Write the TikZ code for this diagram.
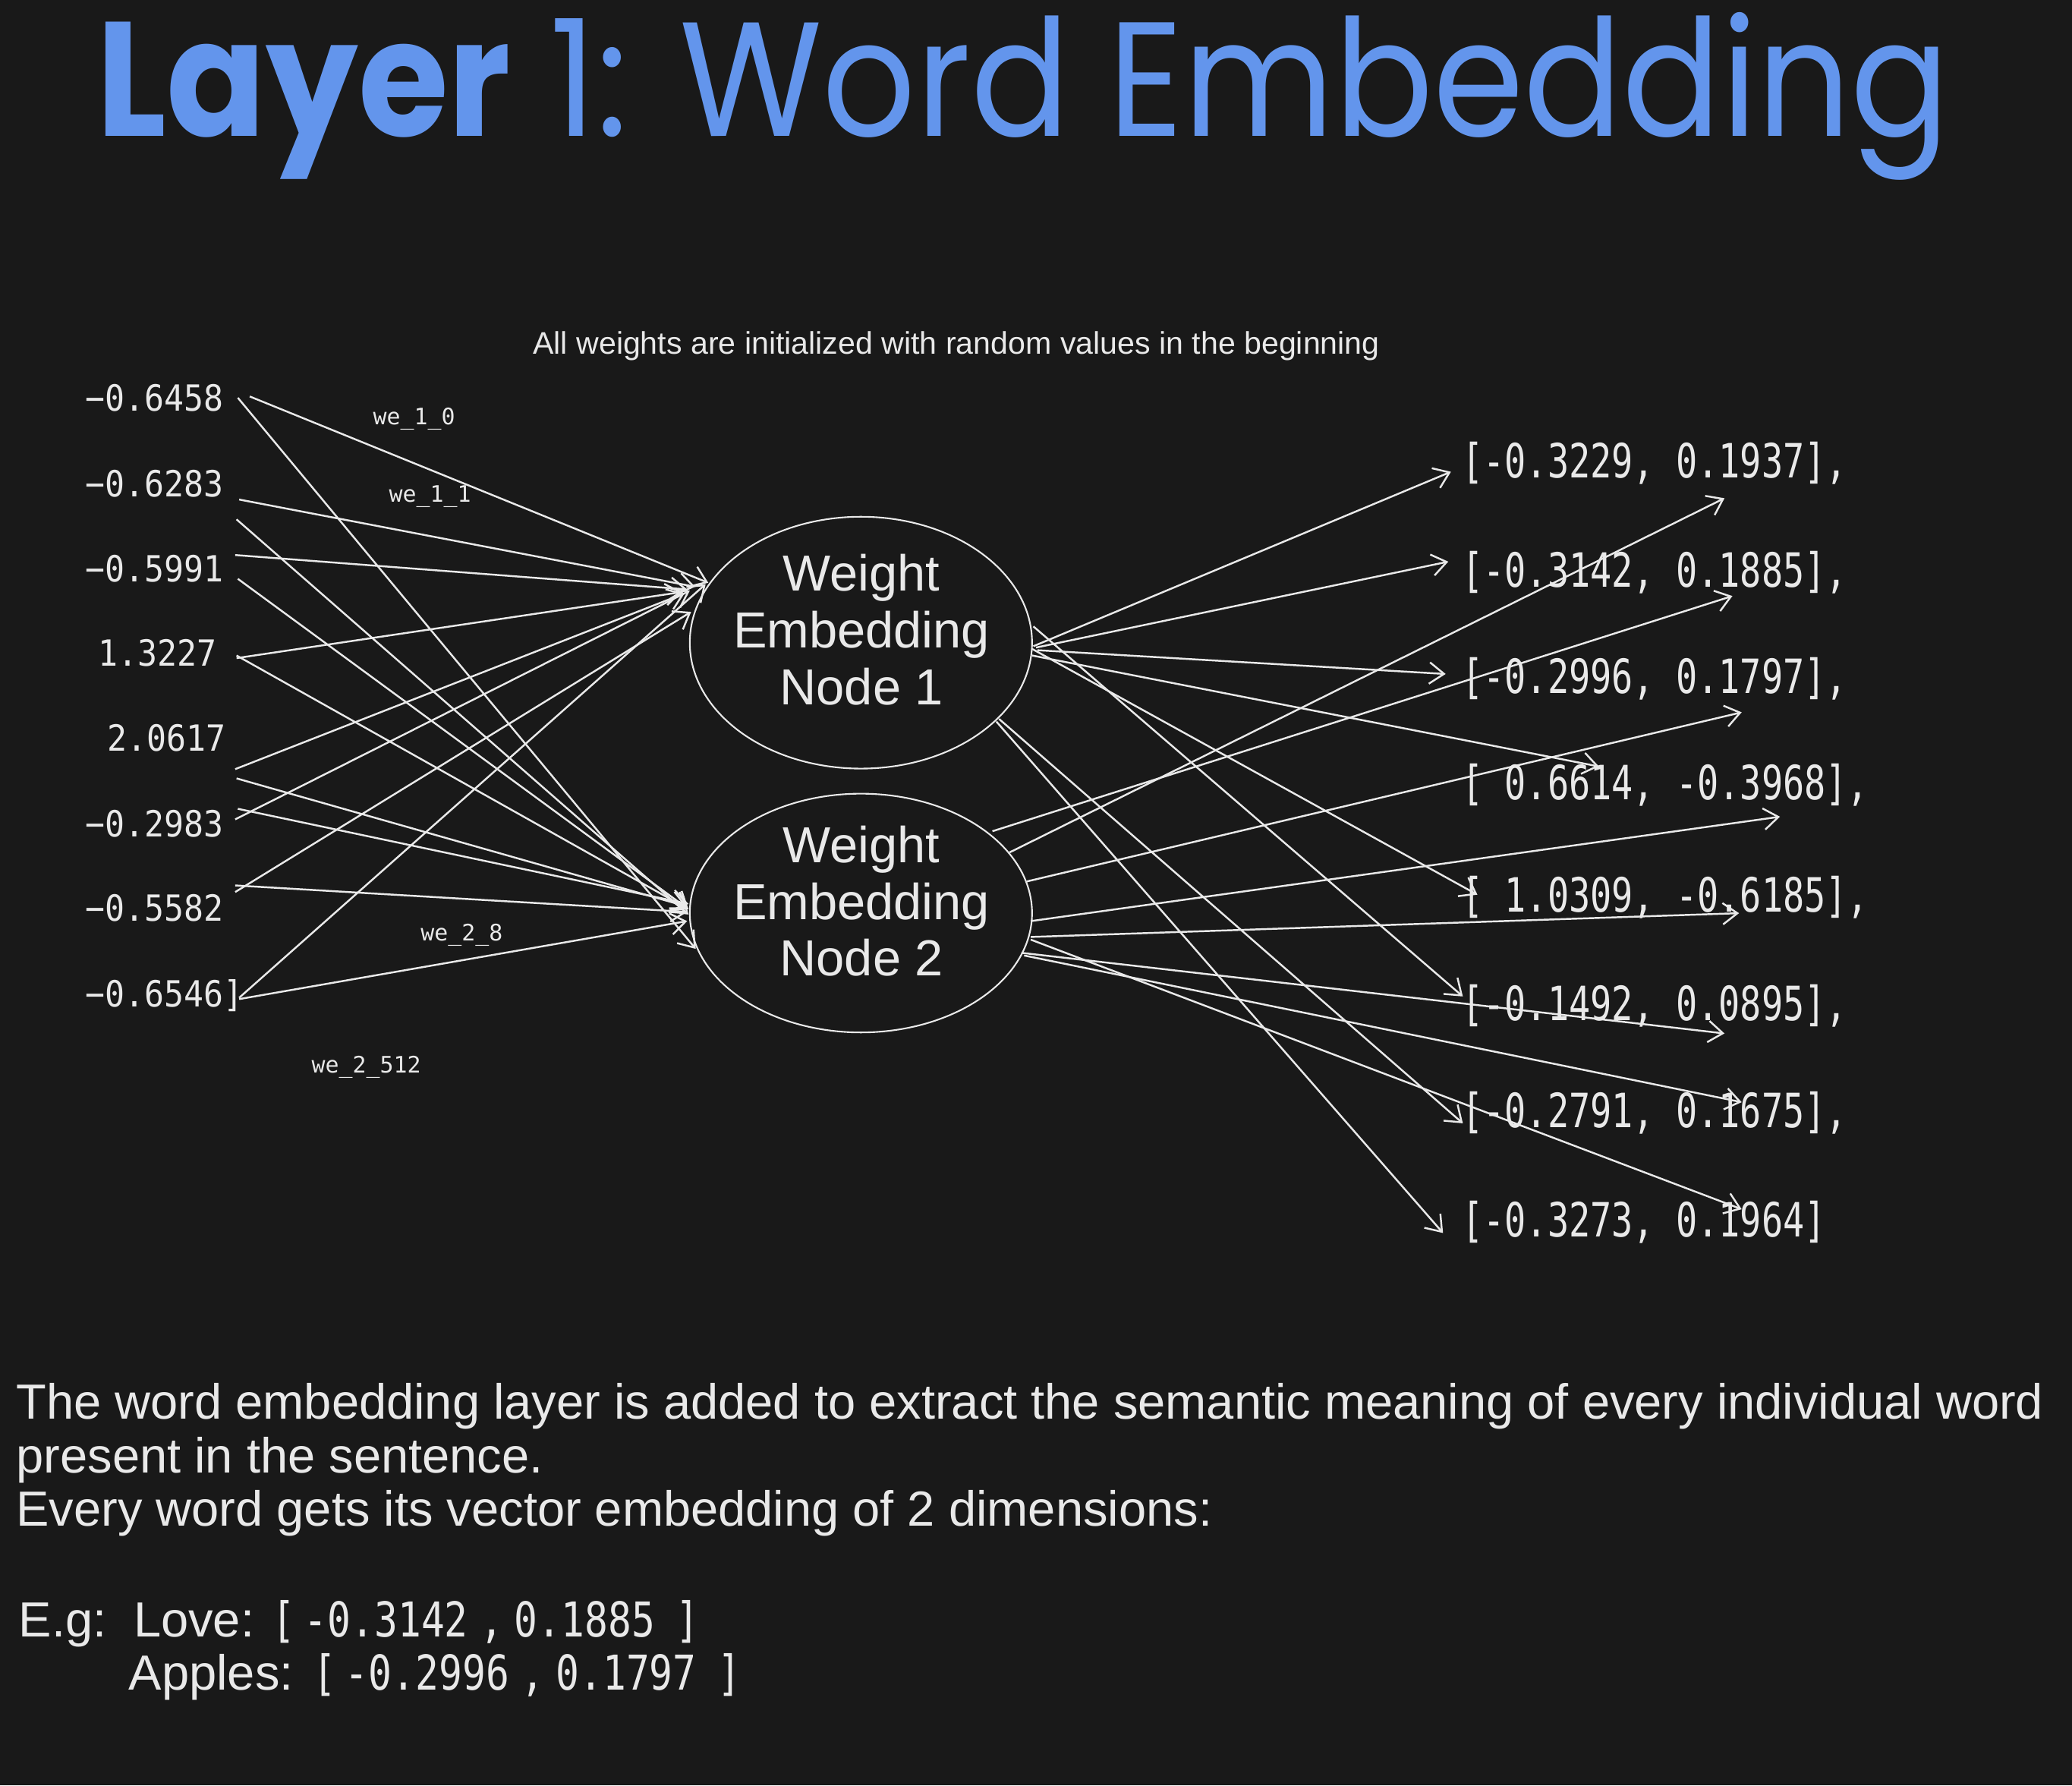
\documentclass[tikz,border=0pt]{standalone}
\usepackage{fontspec}
\setmainfont{Liberation Sans}
\newfontfamily\monofont{DejaVu Sans Mono}
\newfontfamily\headfont{Poppins}
\usetikzlibrary{shapes.geometric,arrows.meta}
\definecolor{bgcol}{HTML}{191919}
\definecolor{fgcol}{HTML}{E9E9E9}
\definecolor{titlecol}{RGB}{99,149,236}
\newcommand{\insc}[1]{\scalebox{0.91}[1]{#1}}
\newcommand{\outsc}[1]{\scalebox{0.753}[1]{#1}}
\newcommand{\egsc}[1]{\scalebox{0.81}[1]{#1}}
\begin{document}
\begin{tikzpicture}[x=0.017411cm,y=-0.017411cm,
  inp/.style={anchor=base west,inner sep=0,text=fgcol,font=\monofont\fontsize{13.5}{16}\selectfont},
  outp/.style={anchor=base west,inner sep=0,text=fgcol,font=\monofont\fontsize{17.7}{20}\selectfont},
  wlab/.style={anchor=base west,inner sep=0,text=fgcol,font=\monofont\fontsize{8.5}{10}\selectfont},
  bodytxt/.style={anchor=base west,inner sep=0,text=fgcol,font=\fontsize{18.5}{20}\selectfont},
  bodymono/.style={anchor=base west,inner sep=0,text=fgcol,font=\monofont\fontsize{18}{20}\selectfont},
  enode/.style={ellipse,draw=fgcol,line width=0.6pt,inner sep=0,outer sep=0},
  etext/.style={align=center,text=fgcol,inner sep=0,font=\fontsize{19}{21.3}\selectfont},
  conn/.style={draw=fgcol,line width=0.7pt,-{Straight Barb[length=5.5pt,width=8pt]}}]
\fill[bgcol] (0,0) rectangle (1568,1351);
\useasboundingbox (0,0) rectangle (1568,1351);

% title
\node[anchor=base west,inner sep=0,text=titlecol] (title) at (73,103)
  {\resizebox{694.6pt}{\height}{\headfont\fontsize{61}{70}\selectfont{\bfseries Layer} 1: Word Embedding}};

% caption
\node[anchor=base west,inner sep=0,text=fgcol,font=\fontsize{11.7}{14}\selectfont] (cap) at (403,268)
  {All weights are initialized with random values in the beginning};

% inputs
\node[inp] (in1) at (64,311) {\insc{−0.6458}};
\node[inp] (in2) at (64,375.7) {\insc{−0.6283}};
\node[inp] (in3) at (64,440) {\insc{−0.5991}};
\node[inp] (in4) at (74,504) {\insc{1.3227}};
\node[inp] (in5) at (80.6,568.6) {\insc{2.0617}};
\node[inp] (in6) at (64,633) {\insc{−0.2983}};
\node[inp] (in7) at (64,697) {\insc{−0.5582}};
\node[inp] (in8) at (64,762) {\insc{−0.6546]}};

% weight labels
\node[wlab] (w10) at (282,321.5) {we\_1\_0};
\node[wlab] (w11) at (294,380) {we\_1\_1};
\node[wlab] (w28) at (318,712) {we\_2\_8};
\node[wlab] (w2512) at (235.5,812) {we\_2\_512};

% embedding nodes
\node[enode,minimum width=128.3pt,minimum height=94.4pt] (n1) at (651.5,486.3) {};
\node[enode,minimum width=128.3pt,minimum height=89.5pt] (n2) at (651.5,690.9) {};
\node[etext] (n1t) at (652,476.5) {Weight\\Embedding\\Node 1};
\node[etext] (n2t) at (652,681.9) {Weight\\Embedding\\Node 2};

% outputs
\node[outp] (out1) at (1106,361.5) {\outsc{[-0.3229, 0.1937],}};
\node[outp] (out2) at (1106,444) {\outsc{[-0.3142, 0.1885],}};
\node[outp] (out3) at (1106,524.7) {\outsc{[-0.2996, 0.1797],}};
\node[outp] (out4) at (1106,605.3) {\outsc{[ 0.6614, -0.3968],}};
\node[outp] (out5) at (1106,690) {\outsc{[ 1.0309, -0.6185],}};
\node[outp] (out6) at (1106,772.5) {\outsc{[-0.1492, 0.0895],}};
\node[outp] (out7) at (1106,853) {\outsc{[-0.2791, 0.1675],}};
\node[outp] (out8) at (1106,935.7) {\outsc{[-0.3273, 0.1964]}};

% connector end points
\foreach \nm/\xx/\yy in {
  s1a/189/300, e1a/536/441, s1b/180/301, e1b/526.5/718,
  s2a/181/378, e2a/526/444, s2b/179/393, e2b/521/692,
  s3a/178/420, e3a/520/446, s3b/180/438, e3b/521/688,
  s4a/179/498, e4a/516/448, s4b/179/496, e4b/521/688,
  s5a/178/582, e5a/518/449, s5b/179/589, e5b/520/686,
  s6a/178/620, e6a/522/447, s6b/180/612, e6b/521/684,
  s7a/178/675, e7a/523/463, s7b/178/670, e7b/520/690,
  s8a/181/755, e8a/534/442, s8b/181/756, e8b/520/697,
  rs1/782/489, re1/1098/357, rs2/784/490, re2/1096/425,
  rs3/785/492, re3/1094/510, rs4/781/496, re4/1210/580,
  rs5/781/491, re5/1118/677, rs6/782/474, re6/1107/754,
  rs7/756/544, re7/1107/850, rs8/754/546, re8/1092/933,
  rs9/764/645, re9/1305/377, rs10/751/629, re10/1311/451,
  rs11/777/667, re11/1318/539, rs12/780/697, re12/1347/618,
  rs13/780/709, re13/1316/691, rs14/773/721, re14/1305/782,
  rs15/775/723, re15/1318/834, rs16/780/711, re16/1318/915}
  \coordinate (\nm) at (\xx,\yy);

\foreach \i in {1a,1b,2a,2b,3a,3b,4a,4b,5a,5b,6a,6b,7a,7b,8a,8b}
  \draw[conn] (s\i) -- (e\i);
\foreach \i in {1,...,16}
  \draw[conn] (rs\i) -- (re\i);

% body text
\node[bodytxt] (b1) at (12,1073.6) {The word embedding layer is added to extract the semantic meaning of every individual word};
\node[bodytxt] (b2) at (12,1114.3) {present in the sentence.};
\node[bodytxt] (b3) at (12,1154.5) {Every word gets its vector embedding of 2 dimensions:};
\node[bodytxt] (eg) at (13.9,1238.4) {E.g:};
\node[bodytxt] (love) at (100.7,1238.4) {Love:};
\node[bodymono] (lb1) at (205.6,1238.4) {\egsc{[}};
\node[bodymono] (lv1) at (229.8,1238.4) {\egsc{-0.3142}};
\node[bodymono] (lc1) at (363,1238.4) {\egsc{,}};
\node[bodymono] (lv2) at (389,1238.4) {\egsc{0.1885}};
\node[bodymono] (rb1) at (511,1238.4) {\egsc{]}};
\node[bodytxt] (apples) at (97.1,1279) {Apples:};
\node[bodymono] (lb2) at (236.8,1279) {\egsc{[}};
\node[bodymono] (av1) at (260.9,1279) {\egsc{-0.2996}};
\node[bodymono] (ac1) at (394,1279) {\egsc{,}};
\node[bodymono] (av2) at (420.3,1279) {\egsc{0.1797}};
\node[bodymono] (rb2) at (542.8,1279) {\egsc{]}};
\end{tikzpicture}
\end{document}
